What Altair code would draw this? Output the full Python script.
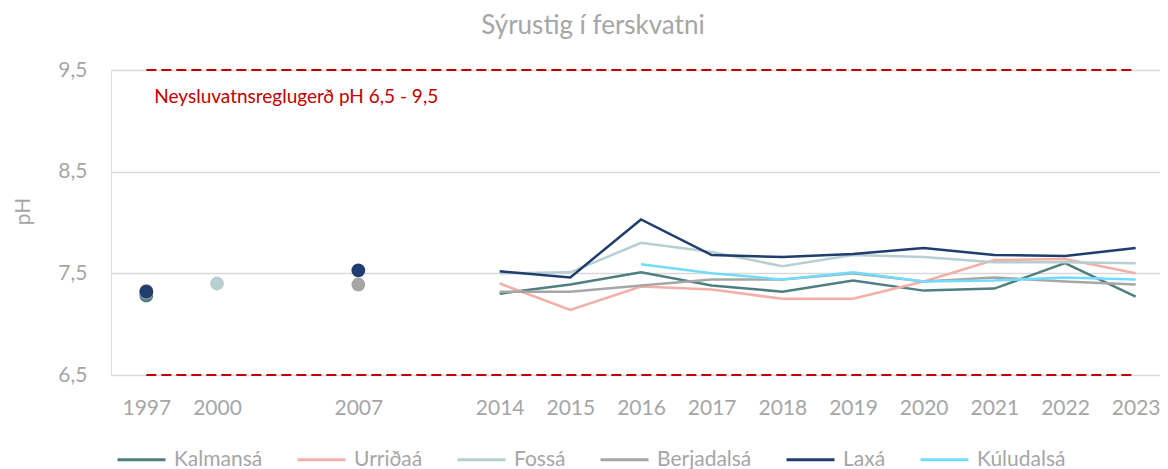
import altair as alt
import pandas as pd

# ---- data -------------------------------------------------------------
x_domain = ["1997", "2000", " ", "2007", "  ", "2014", "2015", "2016", "2017",
            "2018", "2019", "2020", "2021", "2022", "2023"]
line_years = ["2014", "2015", "2016", "2017", "2018", "2019", "2020", "2021", "2022", "2023"]

series = ["Kalmansá", "Urriðaá", "Fossá", "Berjadalsá", "Laxá", "Kúludalsá"]
colors = ["#4F7F80", "#F4AFA8", "#B6CFD2", "#A6A6A6", "#1F3D6F", "#72DDFB"]

kalmansa = [7.30, 7.39, 7.51, 7.38, 7.32, 7.43, 7.33, 7.35, 7.60, 7.27]
urridaa = [7.40, 7.14, 7.37, 7.34, 7.25, 7.25, 7.42, 7.63, 7.64, 7.50]
fossa = [7.50, 7.51, 7.80, 7.71, 7.57, 7.68, 7.66, 7.61, 7.61, 7.60]
berjadalsa = [7.32, 7.32, 7.38, 7.44, 7.44, 7.50, 7.42, 7.46, 7.42, 7.39]
laxa = [7.52, 7.46, 8.03, 7.68, 7.66, 7.69, 7.75, 7.68, 7.67, 7.75]
kuludalsa = [None, None, 7.59, 7.50, 7.44, 7.51, 7.42, 7.43, 7.46, 7.44]

point_year = ["1997", "1997", "1997", "1997", "2000", "2007", "2007"]
point_series = ["Kalmansá", "Urriðaá", "Berjadalsá", "Laxá", "Fossá", "Berjadalsá", "Laxá"]
point_ph = [7.28, 7.33, 7.31, 7.32, 7.40, 7.39, 7.53]

limit_ph = [6.5, 9.5]
limit_from = "1997"
limit_to = "2023"
limit_label = "Neysluvatnsreglugerð pH 6,5 - 9,5"

y_ticks = [6.5, 7.5, 8.5, 9.5]
title_text = "Sýrustig í ferskvatni"
y_title = "pH"

# ---- tables -----------------------------------------------------------
values = [kalmansa, urridaa, fossa, berjadalsa, laxa, kuludalsa]
rows = []
for s, vals in zip(series, values):
    for yr, v in zip(line_years, vals):
        if v is not None:
            rows.append({"year": yr, "series": s, "ph": v})
lines_df = pd.DataFrame(rows)
points_df = pd.DataFrame({"year": point_year, "series": point_series, "ph": point_ph})
limits_df = pd.DataFrame({"ph": limit_ph, "x1": [limit_from] * 2, "x2": [limit_to] * 2})
label_df = pd.DataFrame({"ph": [limit_ph[1]], "x1": [limit_from], "label": [limit_label]})

FONT = "Lato"
GREY = "#A6A6A6"

x_scale = alt.Scale(domain=x_domain, type="point", padding=0.5)
y_scale = alt.Scale(domain=[6.5, 9.5], nice=False, zero=False)

x_axis = alt.Axis(title=None, labelAngle=0, ticks=False, domain=False, grid=False,
                  labelPadding=22, labelFontSize=21, labelColor=GREY, labelFont=FONT)
y_axis = alt.Axis(values=y_ticks, title=y_title, ticks=False, tickSize=0, domain=False,
                  grid=True, gridColor="#D9D9D9", gridWidth=1.5,
                  labelExpr="replace(format(datum.value, '.1f'), '.', ',')",
                  labelPadding=24, labelFontSize=21, labelColor=GREY, labelFont=FONT,
                  titleFontSize=21, titleColor=GREY, titleFont=FONT, titleFontWeight="normal",
                  titleX=-88, titleY=141, titleBaseline="middle", titleAngle=270)

legend = alt.Legend(title=None, orient="none", legendX=5, legendY=364, direction="horizontal",
                    symbolType="stroke", symbolSize=2304, symbolStrokeWidth=3,
                    labelFontSize=21, labelColor=GREY, labelFont=FONT, labelOffset=7,
                    columnPadding=28)

color = alt.Color("series:N", scale=alt.Scale(domain=series, range=colors), legend=legend)

X = alt.X("year:O", scale=x_scale, axis=x_axis)
Y = alt.Y("ph:Q", scale=y_scale, axis=y_axis)

lines = alt.Chart(lines_df).mark_line(strokeWidth=2.5).encode(
    x=X, y=Y, color=color, detail="series:N"
)
points = alt.Chart(points_df).mark_point(filled=True, size=190, opacity=1).encode(
    x=X, y=Y, color=color
)
rules = alt.Chart(limits_df).mark_rule(color="#C00000", strokeWidth=2, strokeDash=[10, 5]).encode(
    x=alt.X("x1:O", scale=x_scale, axis=x_axis), x2="x2", y=Y
)
label = alt.Chart(label_df).mark_text(align="left", baseline="middle", dx=8, dy=27,
                                      color="#C00000", fontSize=19, font=FONT).encode(
    x=alt.X("x1:O", scale=x_scale, axis=x_axis), y=Y, text="label:N"
)

chart = alt.layer(rules, lines, points, label).properties(
    width=1060, height=305,
    title=alt.TitleParams(title_text, fontSize=26, color=GREY, font=FONT, fontWeight="normal",
                          anchor="middle", dx=-48, dy=-20, offset=0),
    autosize=alt.AutoSizeParams(type="none"),
    padding={"left": 103, "top": 62, "right": -11, "bottom": 94},
).configure_view(stroke=None).configure(font=FONT)

chart.save("out.html", embed_options={"renderer": "svg", "actions": False})
